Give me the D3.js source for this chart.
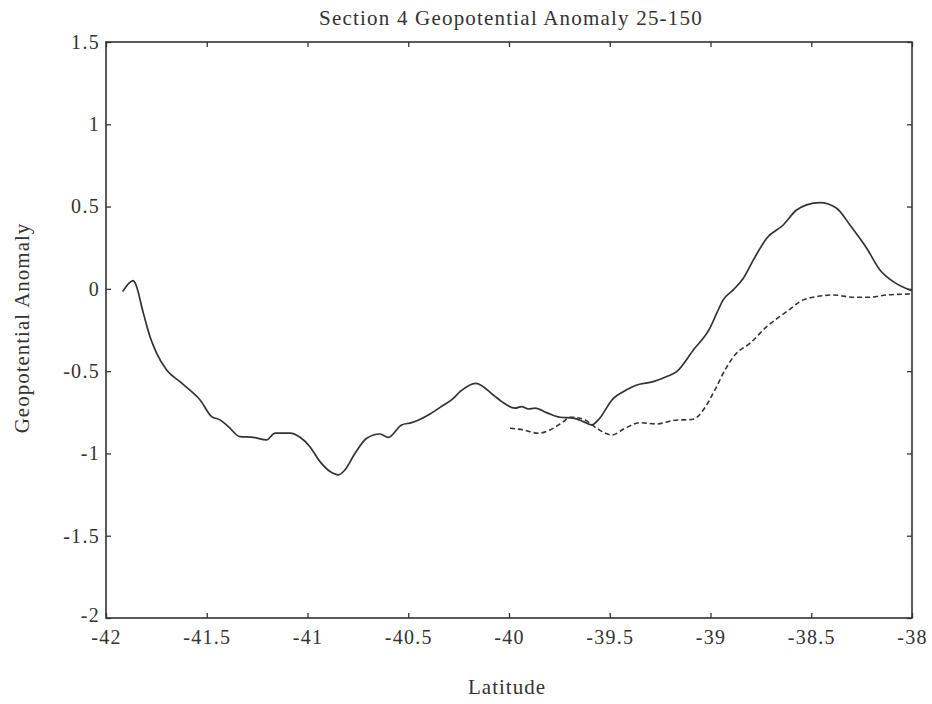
<!DOCTYPE html>
<html><head><meta charset="utf-8">
<script src="https://cdn.jsdelivr.net/npm/d3@7"></script>
<style>body{margin:0;background:#fff;} text{font-family:"Liberation Serif","DejaVu Serif",serif;fill:#333;}</style>
</head><body>
<svg id="c" width="932" height="704"></svg>
<script>
const solidLat = [-41.917,-41.865,-41.855,-41.815,-41.782,-41.749,-41.699,-41.633,-41.575,-41.533,-41.476,-41.434,-41.393,-41.335,-41.269,-41.203,-41.161,-41.087,-41.037,-40.988,-40.938,-40.888,-40.847,-40.814,-40.764,-40.706,-40.640,-40.599,-40.533,-40.483,-40.392,-40.342,-40.276,-40.243,-40.164,-40.078,-40.036,-39.970,-39.937,-39.904,-39.871,-39.813,-39.747,-39.681,-39.631,-39.590,-39.557,-39.482,-39.433,-39.366,-39.284,-39.217,-39.168,-39.085,-39.003,-38.969,-38.937,-38.887,-38.837,-38.787,-38.721,-38.639,-38.573,-38.523,-38.457,-38.374,-38.308,-38.225,-38.159,-38.093,-38.002];
const solidVal = [-0.016,0.05,0.035,-0.146,-0.29,-0.39,-0.493,-0.564,-0.625,-0.675,-0.776,-0.796,-0.837,-0.898,-0.902,-0.918,-0.877,-0.877,-0.902,-0.959,-1.05,-1.11,-1.13,-1.10,-0.999,-0.908,-0.882,-0.902,-0.827,-0.813,-0.76,-0.72,-0.665,-0.625,-0.574,-0.645,-0.685,-0.725,-0.715,-0.73,-0.725,-0.752,-0.78,-0.786,-0.807,-0.827,-0.796,-0.665,-0.625,-0.584,-0.564,-0.533,-0.503,-0.371,-0.239,-0.148,-0.067,-0.006,0.065,0.176,0.308,0.388,0.479,0.51,0.524,0.49,0.388,0.247,0.115,0.044,-0.011];
const dashLat = [-39.995,-39.929,-39.855,-39.797,-39.730,-39.697,-39.631,-39.565,-39.490,-39.424,-39.350,-39.267,-39.185,-39.085,-39.036,-38.978,-38.928,-38.878,-38.804,-38.721,-38.622,-38.539,-38.473,-38.391,-38.291,-38.208,-38.126,-38.002];
const dashVal = [-0.847,-0.857,-0.877,-0.857,-0.807,-0.78,-0.792,-0.847,-0.888,-0.847,-0.813,-0.821,-0.800,-0.792,-0.736,-0.614,-0.493,-0.40,-0.33,-0.23,-0.138,-0.067,-0.047,-0.037,-0.051,-0.051,-0.037,-0.031];
const xTicks = [-42,-41.5,-41,-40.5,-40,-39.5,-39,-38.5,-38];
const yTicks = [-2,-1.5,-1,-0.5,0,0.5,1,1.5];

const L=106,R=912,T=42,B=618;
const x=d3.scaleLinear().domain([-42,-38]).range([L,R]);
const y=d3.scaleLinear().domain([-2,1.5]).range([B,T]);
const svg=d3.select("#c");
const fmt=d=>String(d);

svg.append("rect").attr("x",L).attr("y",T).attr("width",R-L).attr("height",B-T)
 .attr("fill","none").attr("stroke","#333").attr("stroke-width",1.6);

const ax=(axis,tr)=>{const a=svg.append("g").attr("transform",tr).call(axis);
 a.select(".domain").remove(); a.selectAll("line").attr("stroke","#333").attr("stroke-width",1.3); return a;};
const styleTxt=s=>s.selectAll("text").attr("font-size",20).attr("letter-spacing",1.3).attr("font-family","Liberation Serif").attr("fill","#333");
styleTxt(ax(d3.axisBottom(x).tickValues(xTicks).tickSizeInner(-5).tickSizeOuter(0).tickPadding(12).tickFormat(fmt),`translate(0,${B})`));
ax(d3.axisTop(x).tickValues(xTicks).tickSizeInner(-5).tickSizeOuter(0).tickFormat(""),`translate(0,${T})`);
const ly=ax(d3.axisLeft(y).tickValues(yTicks).tickSizeInner(-5).tickSizeOuter(0).tickPadding(6).tickFormat(fmt),`translate(${L},0)`);
styleTxt(ly);
ly.selectAll(".tick").filter(d=>d===-2).select("text").attr("y",-3);
ax(d3.axisRight(y).tickValues(yTicks).tickSizeInner(-5).tickSizeOuter(0).tickFormat(""),`translate(${R},0)`);

const line=d3.line().x(d=>x(d[0])).y(d=>y(d[1])).curve(d3.curveMonotoneX);
svg.append("path").datum(d3.zip(solidLat,solidVal)).attr("d",line)
 .attr("fill","none").attr("stroke","#333").attr("stroke-width",1.7);
svg.append("path").datum(d3.zip(dashLat,dashVal)).attr("d",line)
 .attr("fill","none").attr("stroke","#333").attr("stroke-width",1.6).attr("stroke-dasharray","5,3");

svg.append("text").attr("x",511).attr("y",25).attr("text-anchor","middle").attr("font-size",21).attr("letter-spacing",1.2)
 .text("Section 4 Geopotential Anomaly 25-150");
svg.append("text").attr("x",507).attr("y",694).attr("text-anchor","middle").attr("font-size",21).attr("letter-spacing",1)
 .text("Latitude");
svg.append("text").attr("transform","translate(29,328) rotate(-90)").attr("text-anchor","middle").attr("font-size",21).attr("letter-spacing",1)
 .text("Geopotential Anomaly");
</script>
</body></html>
